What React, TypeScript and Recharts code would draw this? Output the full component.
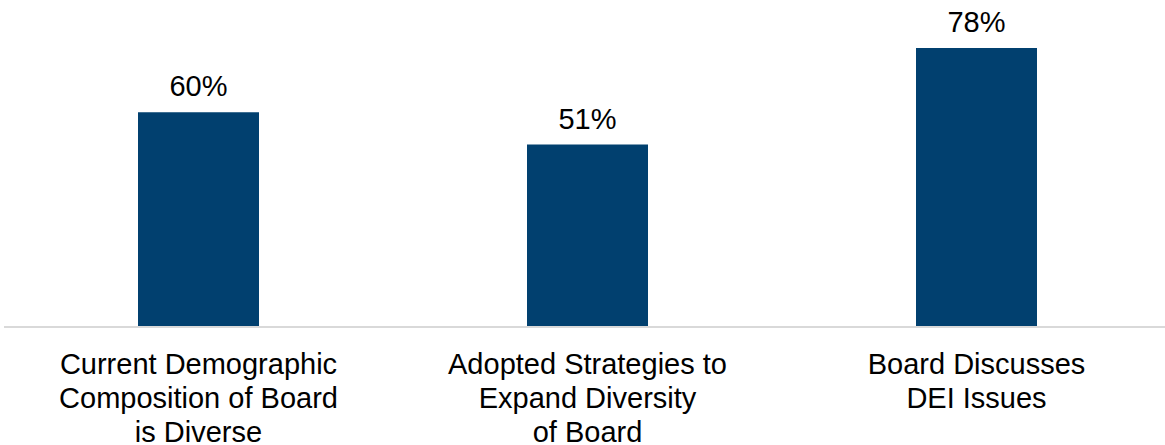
import React from 'react';
import { BarChart, Bar, XAxis, YAxis, LabelList } from 'recharts';

// category labels, one entry per line as they wrap in the original
const categoryLines = [
  ['Current Demographic', 'Composition of Board', 'is Diverse'],
  ['Adopted Strategies to', 'Expand Diversity', 'of Board'],
  ['Board Discusses', 'DEI Issues'],
];
const categories = categoryLines.map((lines) => lines.join(' '));
const shares = [60, 51, 78];

const data = categories.map((name, i) => ({ name, value: shares[i] }));

const FONT = "Arial, 'Liberation Sans', sans-serif";

function CategoryTick(props: any) {
  const { x, y, index } = props;
  const lines = categoryLines[index] || [];
  return (
    <text
      x={x}
      y={y + 39}
      textAnchor="middle"
      fill="#000"
      fontSize={29}
      fontFamily={FONT}
    >
      {lines.map((line, i) => (
        <tspan key={i} x={x} dy={i === 0 ? 0 : 34}>
          {line}
        </tspan>
      ))}
    </text>
  );
}

export default function App() {
  return (
    <div
      style={{
        position: 'absolute',
        left: 0,
        top: 0,
        width: 1165,
        height: 445,
        overflow: 'hidden',
        background: '#fff',
      }}
    >
      <BarChart
        width={1171}
        height={445}
        data={data}
        margin={{ top: 5, right: 0, left: 4, bottom: 0 }}
        barSize={121}
      >
        <XAxis
          dataKey="name"
          height={118}
          axisLine={{ stroke: '#d9d9d9', strokeWidth: 2 }}
          tickLine={false}
          interval={0}
          tick={<CategoryTick />}
        />
        <YAxis hide domain={[0, 90]} />
        <Bar dataKey="value" fill="#01406f" isAnimationActive={false}>
          <LabelList
            dataKey="value"
            position="top"
            offset={16}
            formatter={(v: any) => `${v}%`}
            fill="#000"
            fontSize={29}
            fontFamily={FONT}
          />
        </Bar>
      </BarChart>
    </div>
  );
}
